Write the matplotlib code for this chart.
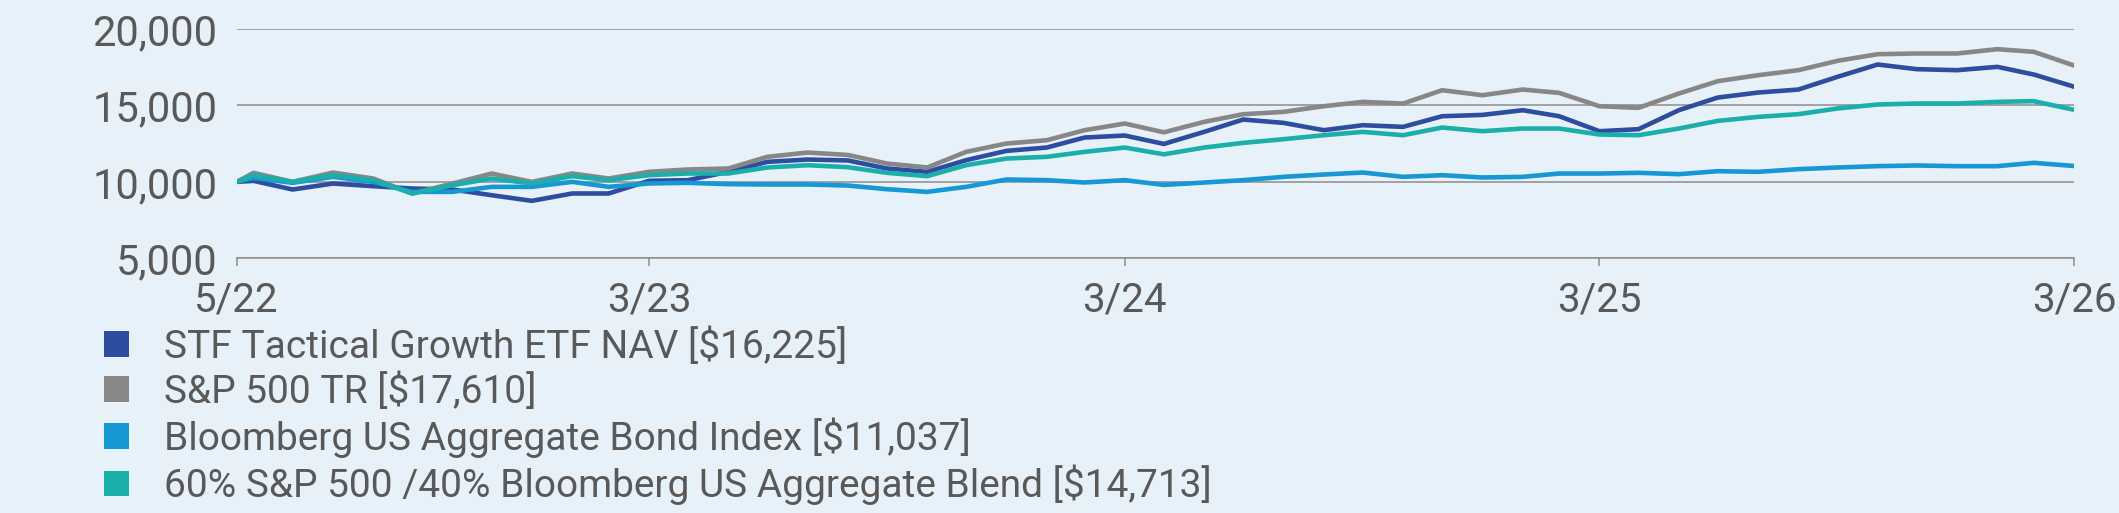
import matplotlib
matplotlib.use("Agg")
from matplotlib import pyplot as plt
from matplotlib.patches import Patch
import pandas as pd

# growth of $10,000: inception, then month-ends 5/22 .. 3/26
dates = [pd.Timestamp("2022-05-18")] + list(pd.date_range("2022-05-31", "2026-03-31", freq="ME"))

stf = [10000, 10065, 9499, 9891, 9717, 9564, 9499, 9128, 8757, 9239, 9239, 10068,
       10111, 10656, 11308, 11461, 11400, 10874, 10656, 11419, 12028, 12245, 12899, 13030,
       12480, 13270, 14076, 13858, 13379, 13706, 13597, 14294, 14380, 14687, 14294, 13314,
       13444, 14687, 15515, 15842, 16039, 16869, 17676, 17371, 17305, 17523, 17022, 16225]
sp500 = [10000, 10589, 10000, 10610, 10218, 9237, 9891, 10545, 10000, 10547, 10220, 10656,
         10809, 10874, 11635, 11918, 11760, 11201, 10940, 11964, 12507, 12725, 13379, 13815,
         13240, 13924, 14425, 14578, 14949, 15232, 15123, 15995, 15668, 16039, 15821, 14949,
         14840, 15777, 16584, 16976, 17305, 17916, 18352, 18396, 18396, 18679, 18505, 17610]
bond = [10000, 10262, 9935, 10327, 10000, 9346, 9346, 9673, 9673, 10000, 9675, 9893,
        9937, 9850, 9828, 9828, 9760, 9520, 9346, 9673, 10155, 10111, 9959, 10111,
        9800, 9956, 10111, 10329, 10480, 10610, 10329, 10436, 10286, 10327, 10545, 10545,
        10591, 10503, 10698, 10654, 10831, 10940, 11027, 11071, 11027, 11027, 11245, 11037]
blend = [10000, 10436, 10000, 10436, 10109, 9237, 9782, 10218, 9891, 10373, 10111, 10438,
         10547, 10547, 10938, 11090, 10960, 10591, 10373, 11092, 11526, 11637, 11962, 12245,
         11800, 12245, 12551, 12790, 13052, 13270, 13052, 13553, 13314, 13488, 13488, 13096,
         13052, 13488, 13989, 14251, 14428, 14799, 15060, 15125, 15125, 15234, 15278, 14713]

labels = ["STF Tactical Growth ETF NAV [$16,225]",
          "S&P 500 TR [$17,610]",
          "Bloomberg US Aggregate Bond Index [$11,037]",
          "60% S&P 500 /40% Bloomberg US Aggregate Blend [$14,713]"]
colors = ["#2c4da0", "#878787", "#1598d3", "#1aafaa"]

tick_dates = [pd.Timestamp("2022-05-18"), pd.Timestamp("2023-03-31"), pd.Timestamp("2024-03-31"),
              pd.Timestamp("2025-03-31"), pd.Timestamp("2026-03-31")]
tick_labels = ["5/22", "3/23", "3/24", "3/25", "3/26"]

bg = "#e6f1fa"
txt = "#595959"
plt.rcParams["font.family"] = ["Roboto", "DejaVu Sans"]

fig = plt.figure(figsize=(21.19, 5.13), dpi=100, facecolor=bg)
ax = fig.add_axes([0.1117, 0.4965, 0.8671, 0.447])
ax.set_facecolor(bg)

for series, c in zip([stf, sp500, bond, blend], colors):
    ax.plot(dates, series, color=c, linewidth=3.3, zorder=3)

ax.set_ylim(5000, 20000)
ax.set_yticks([5000, 10000, 15000, 20000])
ax.yaxis.set_major_formatter(matplotlib.ticker.StrMethodFormatter("{x:,.0f}"))
ax.set_xlim(dates[0], dates[-1])
ax.set_xticks(tick_dates)
ax.set_xticklabels(tick_labels)

ax.grid(axis="y", color="#8c8c8c", linewidth=1.1, zorder=1)
ax.grid(axis="x", visible=False)
for side in ["top", "right", "left"]:
    ax.spines[side].set_visible(False)
ax.spines["bottom"].set_color("#8c8c8c")
ax.spines["bottom"].set_linewidth(1.1)

ax.tick_params(axis="y", length=0, pad=14, labelsize=30, labelcolor=txt)
ax.tick_params(axis="x", length=6, width=1.1, color="#8c8c8c", pad=10, labelsize=29, labelcolor=txt)

handles = [Patch(facecolor=c, edgecolor="none") for c in colors]
fig.legend(handles=handles, labels=labels, loc="upper left",
           bbox_to_anchor=(0.049, 0.362), frameon=False, fontsize=28,
           handlelength=0.64, handleheight=0.64, handletextpad=0.92,
           labelspacing=0.17, borderpad=0, borderaxespad=0, labelcolor=txt)

fig.savefig("out.png", dpi=100, facecolor=bg)
